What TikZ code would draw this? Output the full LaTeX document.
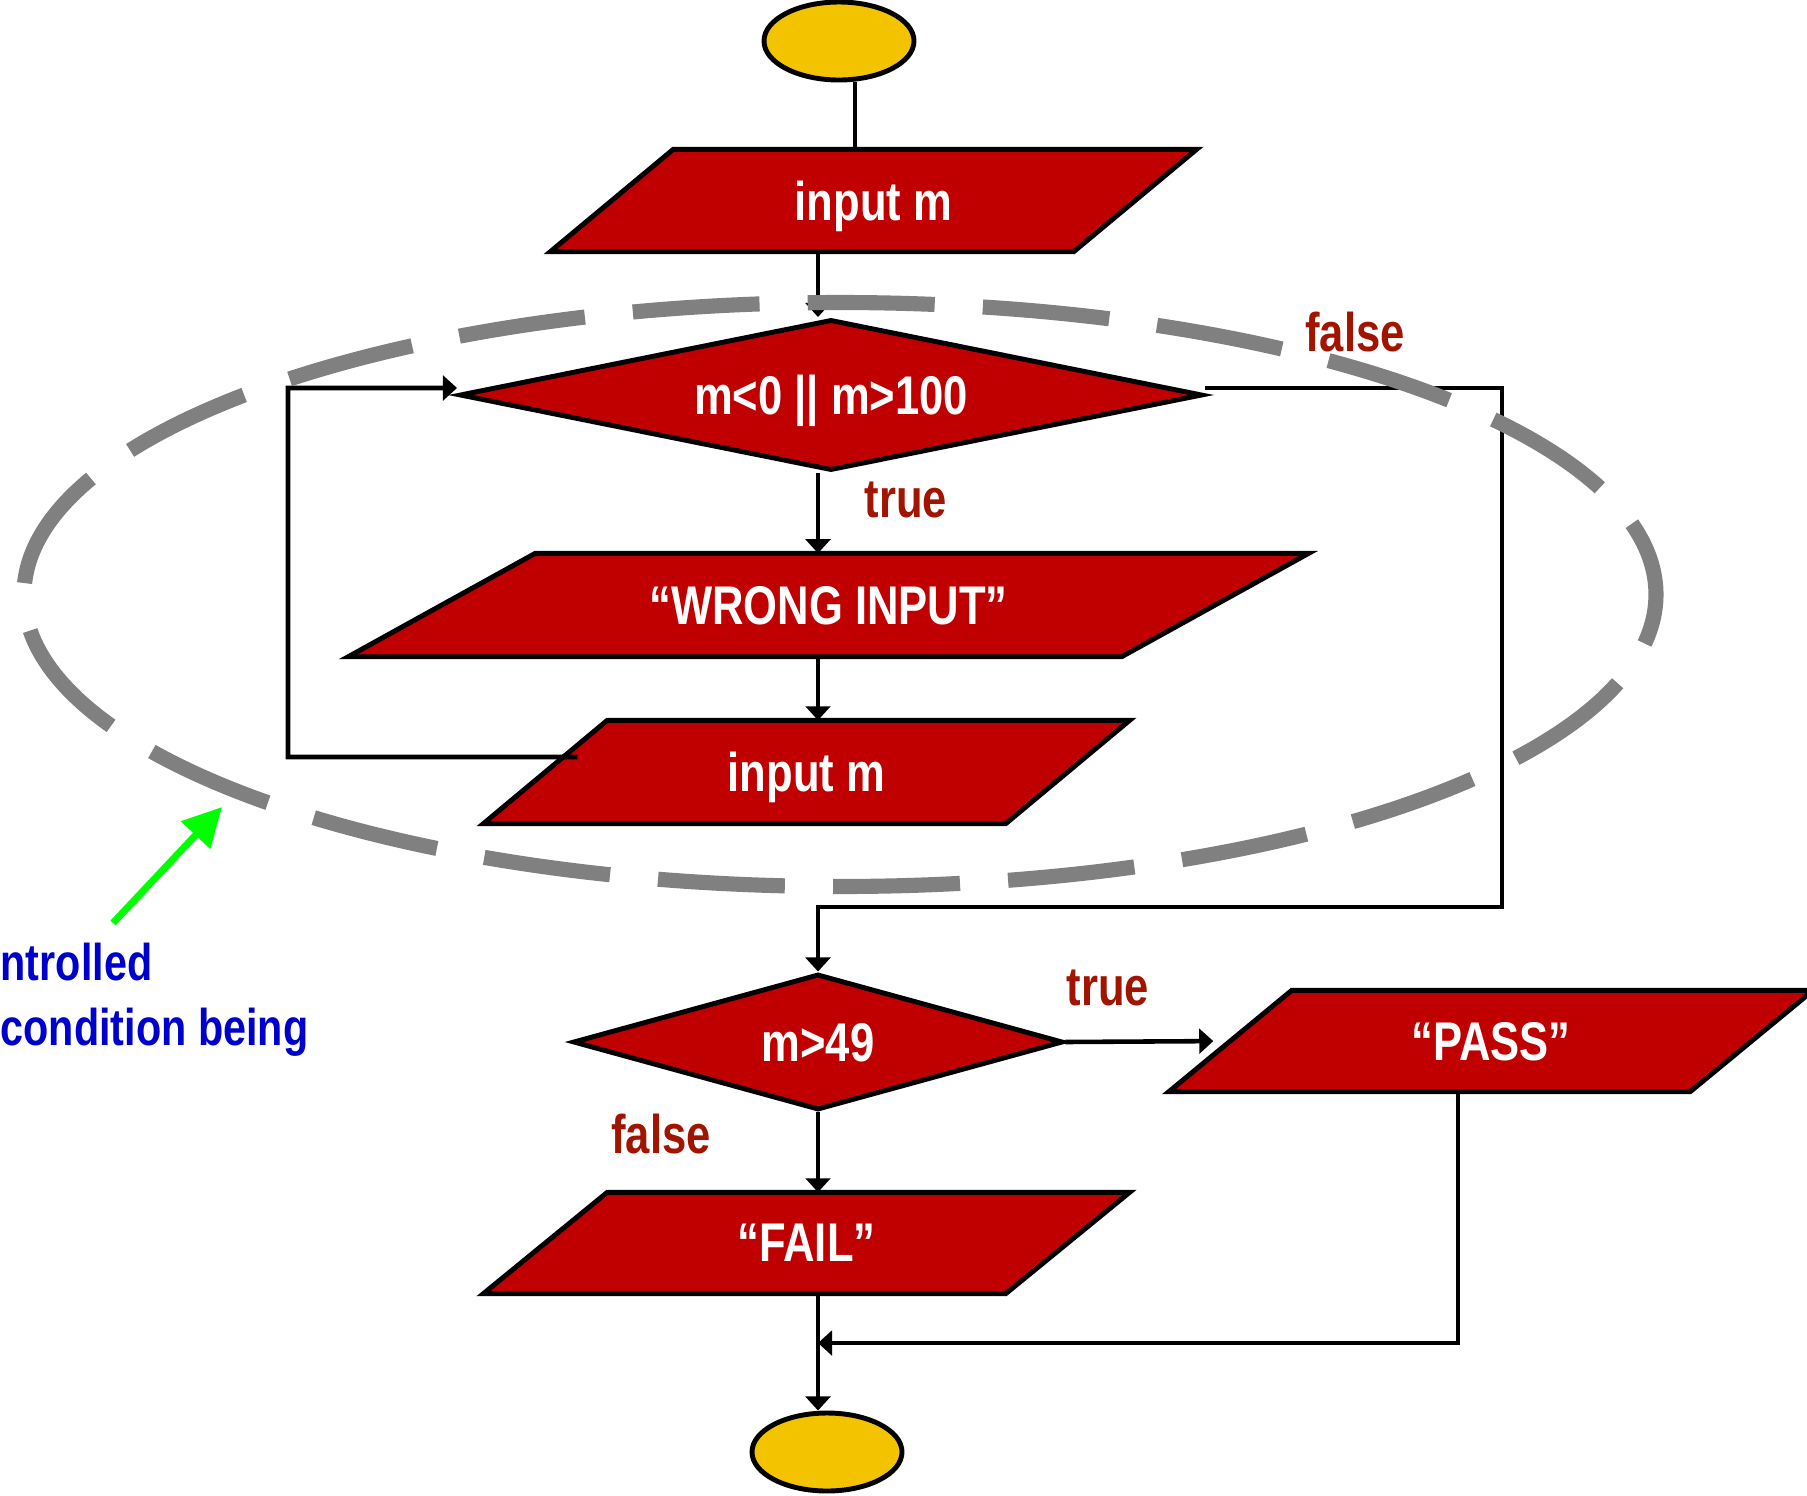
\documentclass[tikz,border=0pt]{standalone}
\usepackage{fontspec}
\newfontfamily\nar{Liberation Sans}[FakeStretch=0.8]
\usetikzlibrary{shapes.geometric,arrows.meta}
\definecolor{boxred}{RGB}{192,0,0}
\definecolor{termyel}{RGB}{243,195,0}
\definecolor{lblred}{RGB}{160,20,0}
\definecolor{notebl}{RGB}{0,0,204}
\definecolor{loopgray}{RGB}{128,128,128}
\definecolor{ptgreen}{RGB}{0,255,0}
\pgfdeclarelayer{shapes}
\pgfsetlayers{shapes,main}
% slanted input/output box: name, centre, body width, height, slant, text
\newcommand\iobox[6]{%
  \node[iotext, minimum width=#3, minimum height=#4] (#1) at #2 {#6};
  \begin{pgfonlayer}{shapes}
    \draw[ioshape] ([xshift=-#5/2]#1.south west) -- ([xshift=-#5/2]#1.south east)
      -- ([xshift=#5/2]#1.north east) -- ([xshift=#5/2]#1.north west) -- cycle;
  \end{pgfonlayer}}
\begin{document}
\begin{tikzpicture}[x=0.1mm,y=-0.1mm,
  txt/.style={font=\nar\bfseries\fontsize{15.5}{18}\selectfont, text depth=0pt},
  term/.style={ellipse, draw, line width=1.4pt, fill=termyel,
    minimum width=15mm, minimum height=7.8mm, inner sep=0pt},
  iotext/.style={rectangle, text=white, txt, inner sep=0pt},
  ioshape/.style={draw, line width=1.4pt, fill=boxred, line join=miter},
  test/.style={diamond, draw, line width=1.4pt, fill=boxred, text=white,
    txt, inner sep=0pt},
  lbl/.style={txt, text=lblred, inner sep=0pt},
  line/.style={line width=1.3pt},
  arr/.style={line, -{Triangle[length=4pt,width=7pt]}},
]
\clip (0,0) rectangle (1807,1496);

% terminals
\node[term] (s1) at (839,41) {};
\node[term] (e1) at (827,1452) {};

% input / output boxes
\iobox{in1}{(873.5,200.5)}{52.2mm}{10.1mm}{12.3mm}{input m}
\iobox{wrong}{(828.5,605)}{77.2mm}{10.2mm}{18.7mm}{“WRONG INPUT”}
\iobox{in2}{(806.5,772)}{52.1mm}{10.2mm}{12.4mm}{input m}
\iobox{pass}{(1491,1041)}{52.0mm}{10mm}{12.3mm}{“PASS”}
\iobox{fail}{(806.5,1243)}{52.1mm}{10mm}{12.4mm}{“FAIL”}

% decisions
\node[test, aspect=4.92, minimum width=74.3mm, minimum height=15.1mm] (d1) at (831,395) {m<0 || m>100};
\node[test, aspect=3.6, minimum width=49mm, minimum height=13.6mm] (d2) at (818,1042) {m>49};

% branch labels
\node[lbl] (f1) at (1355,332) {false};
\node[lbl] (t1) at (906,500) {true};
\node[lbl] (t2) at (1108,988) {true};
\node[lbl] (f2) at (661,1134) {false};

% bend points
\coordinate (lloop) at (288,757);
\coordinate (rloop) at (1502,907);
\coordinate (join) at (818,1343);

% connectors
\draw[line] ([xshift=1.6mm]s1.south) -- ([xshift=1.6mm]s1.south |- in1.north);
\draw[arr] (in1.south -| d2.center) -- (d2.center |- d1.north);
\draw[arr] (d1.south -| d2.center) -- (d2.center |- wrong.north);
\draw[arr] (wrong.south -| d2.center) -- (d2.center |- in2.north);
\draw[arr] ([xshift=3.2mm,yshift=1.5mm]in2.west) -- (lloop) |- ([yshift=0.7mm]d1.west);
\draw[arr] ([yshift=0.7mm]d1.east) -| (rloop) -| (d2.north);
\draw[arr, shorten >=1.5mm] (d2.east) -- ([xshift=-0.2mm]pass.west);
\draw[arr] (d2.south) -- (d2.center |- fail.north);
\draw[line] ([xshift=-3.3mm]pass.south) |- (join);
\draw[arr] ([xshift=-3.3mm]pass.south |- join) -- (join);
\draw[arr] (fail.south -| d2.center) -- (d2.center |- e1.north);

% loop boundary
\draw[loopgray, line width=4.3pt, dash pattern=on 12.7mm off 4.82mm, dash phase=5.1mm]
  (840,594.5) ellipse [x radius=81.6mm, y radius=29.2mm];

% note
\coordinate (gtail) at (113,923);
\coordinate (ghead) at (222,807);
\draw[ptgreen, line width=2pt, -{Triangle[length=11pt,width=11pt]}] (gtail) -- (ghead);
\node[font=\nar\bfseries\fontsize{14.7}{18}\selectfont, text=notebl, anchor=base west, inner sep=0pt]
  (n1) at (0,980) {ntrolled};
\node[font=\nar\bfseries\fontsize{14.7}{18}\selectfont, text=notebl, anchor=base west, inner sep=0pt]
  (n2) at (0,1045) {condition being};
\end{tikzpicture}
\end{document}
